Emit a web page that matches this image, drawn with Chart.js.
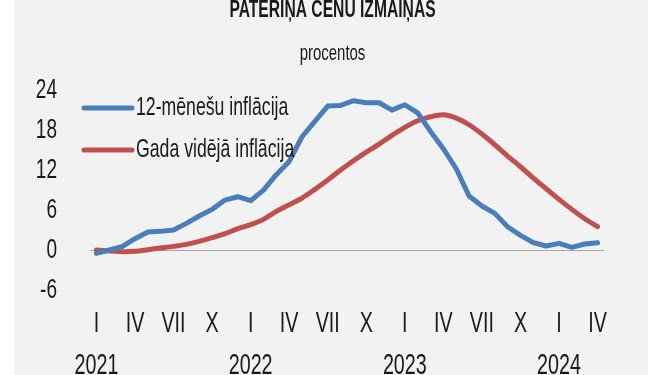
<!DOCTYPE html>
<html>
<head>
<meta charset="utf-8">
<script src="https://cdn.jsdelivr.net/npm/chart.js@4.4.1/dist/chart.umd.min.js"></script>
<style>
  html, body { margin: 0; padding: 0; background: #ffffff; overflow: hidden; }
  #wrap { position: relative; width: 665px; height: 400px; }
  #panel { position: absolute; left: 14px; top: 0; width: 634px; height: 400px; background: #f2f2f2; }
  #chart { position: absolute; left: 0; top: 0; }
</style>
</head>
<body>
<div id="wrap">
  <div id="panel"></div>
  <canvas id="chart" width="665" height="400"></canvas>
</div>
<script>
const FONT = "'Liberation Sans', Arial, sans-serif";
const SQUEEZE = 0.68; // no condensed font here, so text is narrowed by hand

const years = ["2021", "2022", "2023", "2024"];
const monthNames = ["I", "II", "III", "IV", "V", "VI", "VII", "VIII", "IX", "X", "XI", "XII"];
const shownMonths = ["I", "IV", "VII", "X"];
const monthCount = 40; // I.2021 - IV.2024

// 12-month inflation, %
const inflation12m = [
  -0.5, 0.0, 0.5, 1.7, 2.7, 2.8, 3.0, 4.0, 5.1, 6.1, 7.5, 8.0,
  7.4, 9.0, 11.3, 13.3, 17.0, 19.3, 21.6, 21.7, 22.4, 22.1, 22.1, 21.0,
  21.8, 20.6, 17.8, 15.2, 12.2, 8.1, 6.6, 5.5, 3.5, 2.2, 1.1, 0.6,
  1.0, 0.4, 0.9, 1.1
];
// annual average inflation, %
const inflationAvg = [
  0.0, -0.15, -0.25, -0.2, 0.05, 0.3, 0.55, 0.85, 1.3, 1.85, 2.45, 3.2,
  3.8, 4.6, 5.8, 6.8, 7.8, 9.1, 10.5, 12.0, 13.4, 14.7, 15.9, 17.2,
  18.4, 19.4, 20.0, 20.3, 19.8, 18.8, 17.4, 15.8, 14.1, 12.5, 10.8, 9.2,
  7.6, 6.1, 4.7, 3.5
];
const yTicks = [-6, 0, 6, 12, 18, 24];

const categories = [];
for (let i = 0; i < monthCount; i++) {
  categories.push({ month: monthNames[i % 12], year: years[Math.floor(i / 12)] });
}

const ctx = document.getElementById("chart").getContext("2d");

// narrow every text draw around its anchor point, and report narrowed widths
const baseFill = ctx.fillText;
ctx.fillText = function (text, x, y, maxWidth) {
  this.save();
  this.translate(x, y);
  this.scale(SQUEEZE, 1);
  if (maxWidth === undefined) baseFill.call(this, text, 0, 0);
  else baseFill.call(this, text, 0, 0, maxWidth / SQUEEZE);
  this.restore();
};
const baseMeasure = ctx.measureText;
ctx.measureText = function (text) {
  const m = baseMeasure.call(this, text);
  return {
    width: m.width * SQUEEZE,
    actualBoundingBoxAscent: m.actualBoundingBoxAscent,
    actualBoundingBoxDescent: m.actualBoundingBoxDescent
  };
};

const inlineLegend = {
  id: "inlineLegend",
  afterDatasetsDraw(chart) {
    const { ctx, chartArea } = chart;
    ctx.save();
    ctx.font = "26px " + FONT;
    ctx.textBaseline = "middle";
    ctx.textAlign = "left";
    chart.data.datasets.forEach((ds, i) => {
      const x = chartArea.left - 6;
      const y = chartArea.top + 18 + i * 42;
      ctx.strokeStyle = ds.borderColor;
      ctx.lineWidth = 5;
      ctx.lineCap = "round";
      ctx.beginPath();
      ctx.moveTo(x, y);
      ctx.lineTo(x + 48, y);
      ctx.stroke();
      ctx.fillStyle = "#1a1a1a";
      ctx.fillText(ds.label, x + 52, y);
    });
    ctx.restore();
  }
};

const myChart = new Chart(ctx, {
  type: "line",
  data: {
    labels: categories.map(c => c.month + " " + c.year),
    datasets: [
      {
        label: "12-mēnešu inflācija",
        data: inflation12m,
        borderColor: "#4a7ebb",
        borderWidth: 5,
        pointRadius: 0,
        borderJoinStyle: "round",
        borderCapStyle: "round",
        tension: 0
      },
      {
        label: "Gada vidējā inflācija",
        data: inflationAvg,
        borderColor: "#c0504d",
        borderWidth: 5,
        pointRadius: 0,
        borderJoinStyle: "round",
        borderCapStyle: "round",
        tension: 0.3
      }
    ]
  },
  options: {
    responsive: false,
    animation: false,
    devicePixelRatio: 1,
    layout: { padding: 0 },
    plugins: {
      legend: { display: false },
      tooltip: { enabled: false },
      title: {
        display: true,
        text: "PATĒRIŅA CENU IZMAIŅAS",
        color: "#1a1a1a",
        font: { family: FONT, size: 23, weight: "bold", lineHeight: 0.9 },
        padding: { top: 0, bottom: 20 }
      },
      subtitle: {
        display: true,
        text: "procentos",
        color: "#1a1a1a",
        font: { family: FONT, size: 22, lineHeight: 1.2 },
        padding: { top: 0, bottom: 23 }
      }
    },
    scales: {
      x: {
        offset: true,
        border: { display: false },
        grid: { display: false, drawTicks: false },
        afterFit: axis => { axis.height = 110; },
        ticks: {
          autoSkip: false,
          maxRotation: 0,
          padding: 13,
          color: "#1a1a1a",
          font: { family: FONT, size: 29, lineHeight: 1.45 },
          callback: (val, idx) => {
            const c = categories[idx];
            if (!shownMonths.includes(c.month)) return null;
            return c.month === "I" ? [c.month, c.year] : c.month;
          }
        }
      },
      y: {
        min: yTicks[0],
        max: yTicks[yTicks.length - 1],
        border: { display: false },
        grid: {
          drawTicks: false,
          lineWidth: 1,
          color: c => (c.tick && c.tick.value === 0 ? "#a6a6a6" : "rgba(0,0,0,0)")
        },
        afterBuildTicks: axis => { axis.ticks = yTicks.map(v => ({ value: v })); },
        afterFit: axis => { axis.width = 90; },
        ticks: {
          padding: 33,
          color: "#1a1a1a",
          font: { family: FONT, size: 28 }
        }
      },
      // empty right-hand axis, only keeps the plot clear of the panel edge
      yRight: {
        position: "right",
        min: yTicks[0],
        max: yTicks[yTicks.length - 1],
        border: { display: false },
        grid: { display: false, drawTicks: false },
        ticks: { display: false },
        afterFit: axis => { axis.width = 61; }
      }
    }
  },
  plugins: [inlineLegend]
});
</script>
</body>
</html>
